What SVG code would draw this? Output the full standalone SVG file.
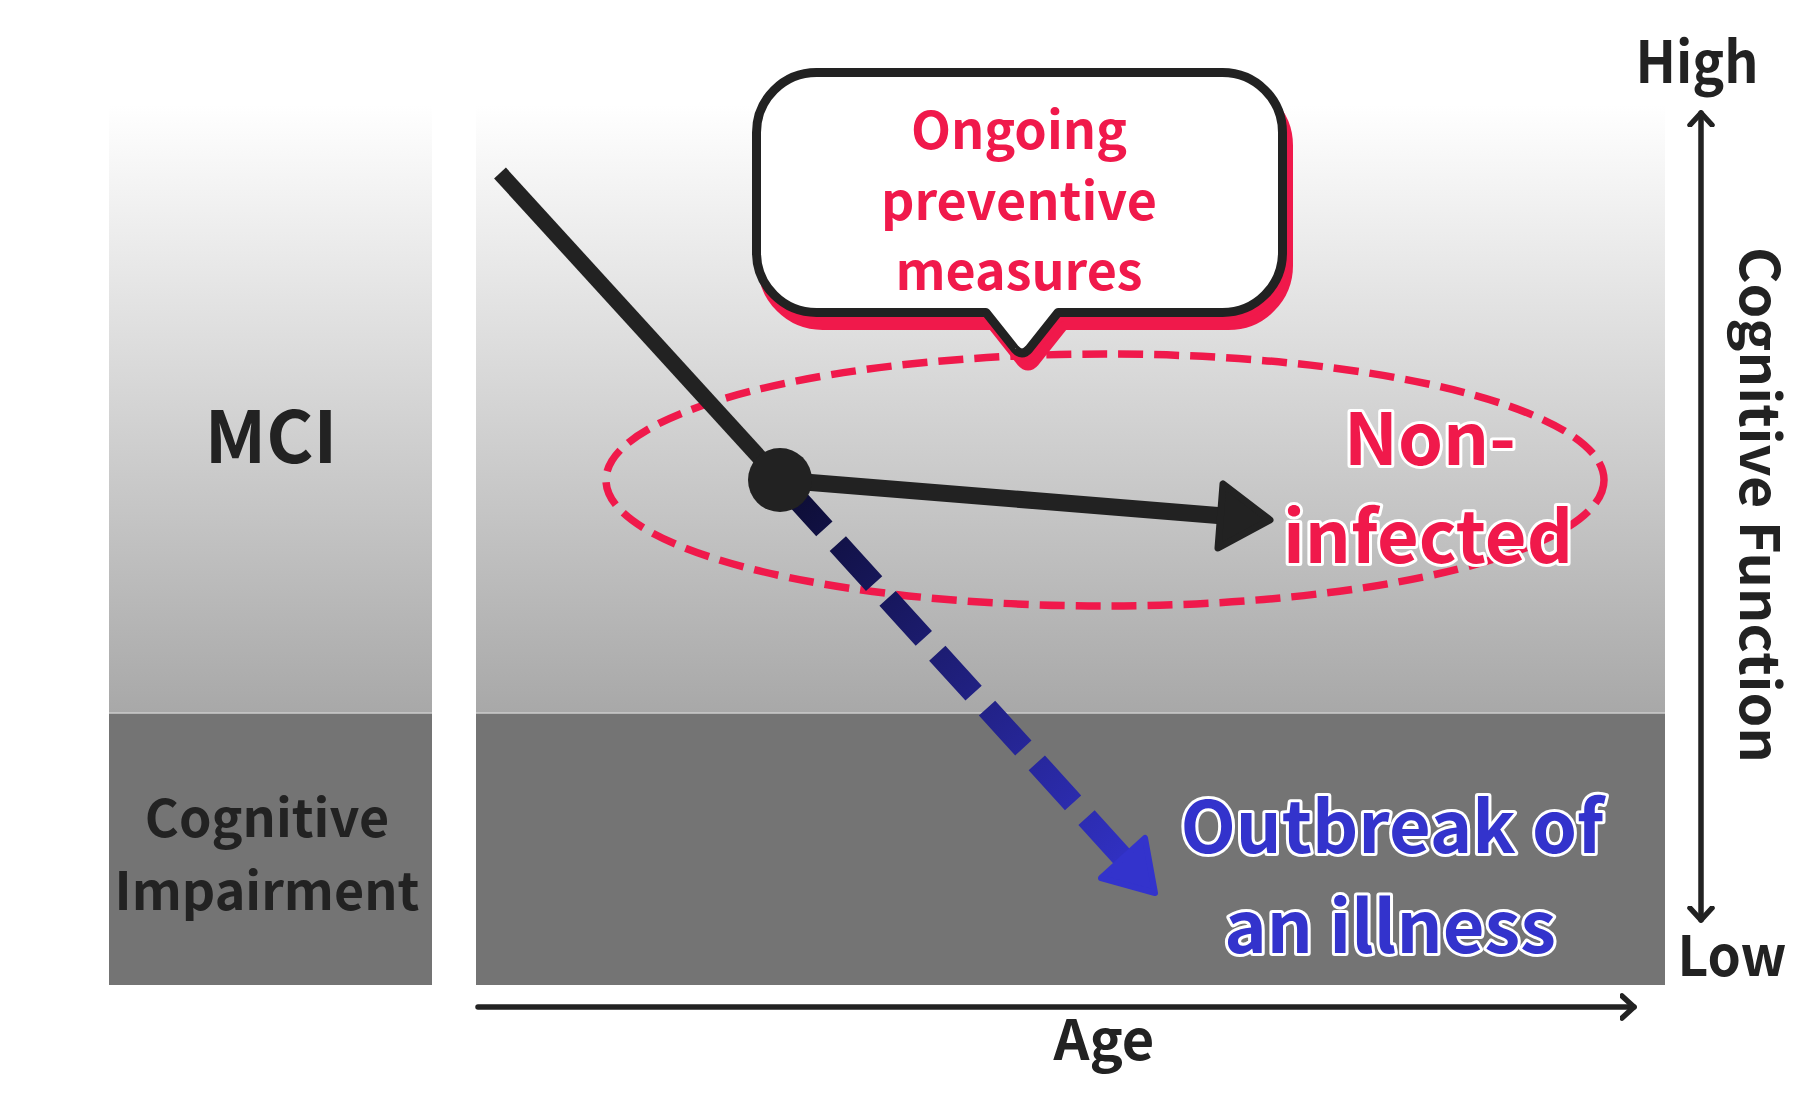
<svg xmlns="http://www.w3.org/2000/svg" width="1800" height="1095" viewBox="0 0 1800 1095">
  <defs>
    <linearGradient id="bgGrad" x1="0" y1="105" x2="0" y2="713" gradientUnits="userSpaceOnUse">
      <stop offset="0" stop-color="#ffffff"/>
      <stop offset="1" stop-color="#a8a8a8"/>
    </linearGradient>
    <linearGradient id="dashGrad" x1="780" y1="480" x2="1157" y2="895" gradientUnits="userSpaceOnUse">
      <stop offset="0" stop-color="#0c0c30"/>
      <stop offset="1" stop-color="#3434d0"/>
    </linearGradient>
    <marker id="chevron" viewBox="-14 -14 28 28" markerWidth="28" markerHeight="28" refX="0" refY="0" orient="auto-start-reverse" markerUnits="userSpaceOnUse">
      <polyline points="-12,-11 0,0 -12,11" fill="none" stroke="#222" stroke-width="5.5" stroke-linecap="round" stroke-linejoin="round"/>
    </marker>
  </defs>
  <style>
    .t { font-family: "Noto Sans CJK JP", "Noto Sans", sans-serif; font-weight: 700; text-anchor: middle; }
    .dark { fill: #222222; }
    .red { fill: #f0194b; }
    .blue { fill: #3333cc; }
    .outline { stroke: #ffffff; stroke-width: 6; paint-order: stroke; stroke-linejoin: round; }
    .axis { stroke: #222222; stroke-width: 5.5; fill: none; stroke-linecap: round; }
  </style>
  <rect width="1800" height="1095" fill="#ffffff"/>

  <g id="panel-left">
    <rect x="109" y="105" width="323" height="608" fill="url(#bgGrad)"/>
    <rect x="109" y="713" width="323" height="272" fill="#747474"/>
    <line x1="109" y1="713" x2="432" y2="713" stroke="#cccccc" stroke-width="1.5"/>
  </g>
  <g id="panel-main">
    <rect x="476" y="105" width="1189" height="608" fill="url(#bgGrad)"/>
    <rect x="476" y="713" width="1189" height="272" fill="#747474"/>
    <line x1="476" y1="713" x2="1665" y2="713" stroke="#cccccc" stroke-width="1.5"/>
  </g>

  <g id="label-mci">
    <text class="t dark" x="271" y="463" font-size="72">MCI</text>
  </g>
  <g id="label-impairment">
    <text class="t dark" x="267" y="837" font-size="52">Cognitive</text>
    <text class="t dark" x="267" y="910" font-size="52">Impairment</text>
  </g>

  <g id="axes">
    <line class="axis" x1="478" y1="1007" x2="1634" y2="1007" marker-end="url(#chevron)"/>
    <line class="axis" x1="1701" y1="113" x2="1701" y2="920" marker-start="url(#chevron)" marker-end="url(#chevron)"/>
  </g>
  <g id="axis-labels">
    <text class="t dark" x="1104" y="1060" font-size="56">Age</text>
    <text class="t dark" x="1697" y="83" font-size="58" textLength="123" lengthAdjust="spacingAndGlyphs">High</text>
    <text class="t dark" x="1732" y="976" font-size="56" textLength="109" lengthAdjust="spacingAndGlyphs">Low</text>
    <text class="t dark" transform="translate(1740 505) rotate(90)" x="0" y="0" font-size="54" textLength="516" lengthAdjust="spacingAndGlyphs">Cognitive Function</text>
  </g>

  <g id="ellipse-non-infected">
    <ellipse cx="1105" cy="480" rx="499" ry="126" fill="none" stroke="#f0194b" stroke-width="7.5" stroke-dasharray="25 11"/>
  </g>

  <g id="connectors">
    <line x1="500" y1="173" x2="780" y2="480" stroke="#222222" stroke-width="16"/>
    <line x1="780" y1="480" x2="1224" y2="516" stroke="#222222" stroke-width="17"/>
    <polygon points="1270,520 1223,484 1218,548" fill="#222222" stroke="#222222" stroke-width="7" stroke-linejoin="round"/>
    <line x1="780" y1="480" x2="1125" y2="860" stroke="url(#dashGrad)" stroke-width="22" stroke-dasharray="54 20" stroke-dashoffset="-12"/>
    <polygon points="1155,893 1101,878 1145,838" fill="#3333cc" stroke="#3333cc" stroke-width="6" stroke-linejoin="round"/>
  </g>

  <g id="node-point">
    <circle cx="780" cy="480" r="32" fill="#222222"/>
  </g>

  <g id="bubble">
    <path transform="translate(6 13)" d="M816.5,72.5 H1222.5 A60,60 0 0 1 1282.5,132.5 V252.5 A60,60 0 0 1 1222.5,312.5 H1058 L1029,349 Q1022,357 1015,349 L986,312.5 H816.5 A60,60 0 0 1 756.5,252.5 V132.5 A60,60 0 0 1 816.5,72.5 Z" fill="#f0194b" stroke="#f0194b" stroke-width="9" stroke-linejoin="round"/>
    <path d="M816.5,72.5 H1222.5 A60,60 0 0 1 1282.5,132.5 V252.5 A60,60 0 0 1 1222.5,312.5 H1058 L1029,349 Q1022,357 1015,349 L986,312.5 H816.5 A60,60 0 0 1 756.5,252.5 V132.5 A60,60 0 0 1 816.5,72.5 Z" fill="#ffffff" stroke="#222222" stroke-width="9" stroke-linejoin="round"/>
    <text class="t red" x="1019" y="149" font-size="52">Ongoing</text>
    <text class="t red" x="1019" y="220" font-size="52">preventive</text>
    <text class="t red" x="1019" y="290" font-size="52">measures</text>
  </g>

  <g id="label-non-infected">
    <text class="t red outline" x="1430" y="465" font-size="72">Non-</text>
    <text class="t red outline" x="1428" y="563" font-size="72">infected</text>
  </g>
  <g id="label-outbreak">
    <text class="t blue outline" x="1392" y="853" font-size="72">Outbreak of</text>
    <text class="t blue outline" x="1390" y="953" font-size="72">an illness</text>
  </g>
</svg>
